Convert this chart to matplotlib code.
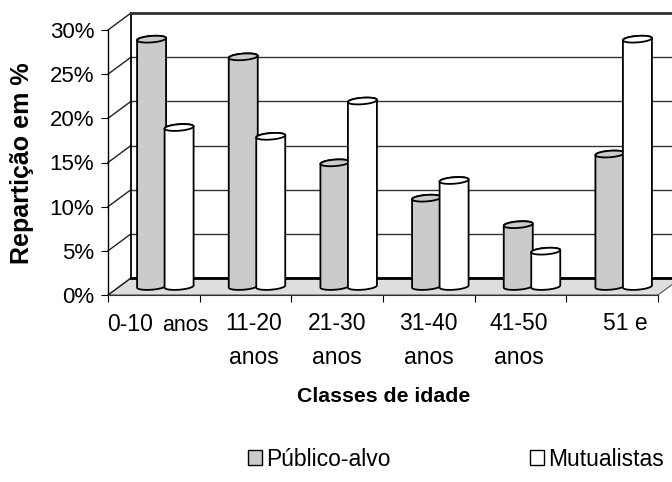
import numpy as np
import matplotlib.pyplot as plt
from matplotlib.patches import Polygon, Rectangle

plt.rcParams['font.family'] = ['Liberation Sans', 'DejaVu Sans']

# valores do gráfico (%)
linha1 = ['0-10', '11-20', '21-30', '31-40', '41-50', '51 e']
linha2 = ['anos', 'anos', 'anos', 'anos', 'anos', '']
publico_alvo = [28, 26, 14, 10, 7, 15]
mutualistas = [18, 17, 21, 12, 4, 28]
y_ticks = [0, 5, 10, 15, 20, 25, 30]
series = ['Público-alvo', 'Mutualistas']

cor_cinza = '#cbcbcb'
cor_branco = '#ffffff'
cor_chao = '#dedede'

W, H = 672, 482
fig = plt.figure(figsize=(W / 100, H / 100), dpi=100)
ax = fig.add_axes([108 / W, 1 - 295 / H, 550 / W, 265 / H])
n = len(linha1)
ax.set_xlim(0, n)
ax.set_ylim(0, 30)
ax.set_facecolor('none')

# pixels por unidade e vector de profundidade (projecção oblíqua)
ux = 550 / n
uy = 265 / 30
kx = 23 / ux
ky = 17 / uy


def proj(x, y, z):
    return x + z * kx, y + z * ky


# chão
chao = [proj(0, 0, 0), proj(n, 0, 0), proj(n, 0, 1), proj(0, 0, 1)]
ax.add_patch(Polygon(chao, closed=True, facecolor=cor_chao, edgecolor='#555555',
                     lw=0.8, clip_on=False, zorder=1))

# parede do fundo e parede lateral
for v in y_ticks:
    x0, y0 = proj(0, v, 1)
    x1, y1 = proj(n + 0.5, v, 1)
    ax.plot([x0, x1], [y0, y1], color='#333333', lw=1.0, clip_on=False, zorder=2)
    xa, ya = proj(0, v, 0)
    ax.plot([xa, x0], [ya, y0], color='#222222', lw=1.0, clip_on=False, zorder=2)
x0, y0 = proj(0, 0, 1)
x1, y1 = proj(0, 30, 1)
ax.plot([x0, x1], [y0, y1], color='black', lw=1.3, clip_on=False, zorder=2)
x2, y2 = proj(n + 0.5, 30, 1)
ax.plot([x1, x2], [y1, y2], color='#333333', lw=2.0, clip_on=False, zorder=2)
x3, y3 = proj(n, 0, 1)
ax.plot([x0, x3 + 0.5], [y0, y3], color='black', lw=2.0, clip_on=False, zorder=2)

# cilindros
r = 0.15
rz = 0.2
zc = 0.5
t0 = np.arctan2(rz * kx, r)


def elipse(xc, y, t):
    x = xc + r * np.cos(t) + rz * kx * np.sin(t) + zc * kx
    yy = y + rz * ky * np.sin(t) + zc * ky
    return np.column_stack([x, yy])


def cilindro(xc, valor, cor):
    baixo = elipse(xc, 0, np.linspace(t0, t0 - np.pi, 40))
    cima = elipse(xc, valor, np.linspace(t0 - np.pi, t0 - 2 * np.pi, 40))
    corpo = np.vstack([baixo, cima])
    ax.add_patch(Polygon(corpo, closed=True, facecolor=cor, edgecolor='black',
                         lw=1.3, clip_on=False, zorder=3, joinstyle='round'))
    topo = elipse(xc, valor, np.linspace(0, 2 * np.pi, 80))
    ax.add_patch(Polygon(topo, closed=True, facecolor=cor, edgecolor='black',
                         lw=1.3, clip_on=False, zorder=3))


for i in range(n):
    cilindro(i + 0.35, publico_alvo[i], cor_cinza)
    cilindro(i + 0.65, mutualistas[i], cor_branco)

# eixos
for s in ['top', 'right']:
    ax.spines[s].set_visible(False)
ax.spines['left'].set_linewidth(1.0)
ax.spines['bottom'].set_linewidth(0.8)
ax.spines['bottom'].set_color('#333333')
ax.set_yticks(y_ticks)
ax.set_yticklabels([f'{v}%' for v in y_ticks], fontsize=16)
ax.set_xticks(range(n + 1))
ax.set_xticklabels([])
ax.tick_params(axis='both', direction='out', length=5, width=0.8, pad=5)

# rótulos das categorias
ajuste = [0, 8, 0, 0, -2, 13]
for i in range(n):
    if i == 0:
        ax.annotate(linha1[i], xy=(i + 0.5, 0), xytext=(-1, -36),
                    textcoords='offset pixels', ha='right', va='baseline',
                    fontsize=16.5)
        ax.annotate(linha2[i], xy=(i + 0.5, 0), xytext=(8, -36),
                    textcoords='offset pixels', ha='left', va='baseline',
                    fontsize=15.5)
        continue
    ax.annotate(linha1[i], xy=(i + 0.5, 0), xytext=(ajuste[i], -28),
                textcoords='offset pixels', ha='center', va='center',
                fontsize=16.5)
    if linha2[i]:
        ax.annotate(linha2[i], xy=(i + 0.5, 0), xytext=(ajuste[i], -62),
                    textcoords='offset pixels', ha='center', va='center',
                    fontsize=16.5)

fig.text(22 / W, 1 - 163 / H, 'Repartição em %', rotation=90, ha='center',
         va='center', fontsize=18, fontweight='bold')
fig.text(384 / W, 1 - 397 / H, 'Classes de idade', ha='center', va='center',
         fontsize=15.3, fontweight='bold')

# legenda
handles = [Rectangle((0, 0), 1, 1, facecolor=cor_cinza, edgecolor='black', lw=1),
           Rectangle((0, 0), 1, 1, facecolor=cor_branco, edgecolor='black', lw=1)]
fig.legend(handles, series, ncol=2, loc='center',
           bbox_to_anchor=(456 / W, 1 - 459 / H), frameon=False, fontsize=16.5,
           handlelength=0.6, handleheight=0.6, handletextpad=0.17,
           columnspacing=6.1, borderpad=0)

fig.savefig('out.png', dpi=100)
